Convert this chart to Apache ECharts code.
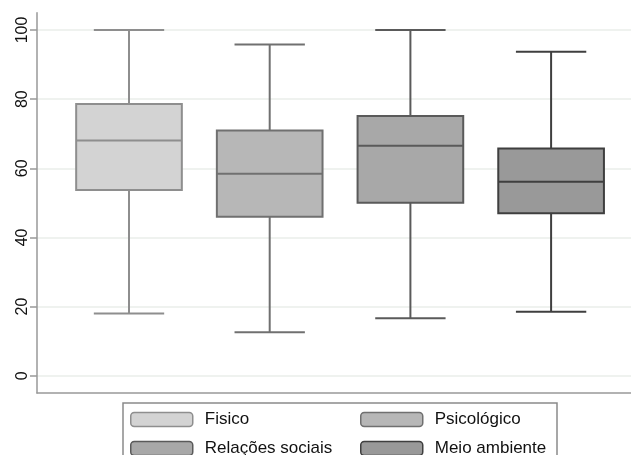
<!DOCTYPE html>
<html>
<head>
<meta charset="utf-8">
<script src="https://cdn.jsdelivr.net/npm/echarts@6/dist/echarts.min.js"></script>
<style>html,body{margin:0;padding:0;background:#fff;}#c{width:631px;height:455px;}</style>
</head>
<body>
<div id="c"></div>
<script>
const categories = ['Fisico', 'Psicológico', 'Relações sociais', 'Meio ambiente'];
// [lower whisker, Q1, median, Q3, upper whisker]
const fisico = [18.0, 53.7, 68.0, 78.6, 100];
const psicologico = [12.6, 46.0, 58.4, 70.9, 95.8];
const relacoes = [16.6, 50.0, 66.5, 75.1, 100];
const meio = [18.5, 47.0, 56.1, 65.7, 93.7];
const yTicks = [0, 20, 40, 60, 80, 100];

const fills = ['#d3d3d3', '#b7b7b7', '#a8a8a8', '#999999'];
const borders = ['#8e8e8e', '#707070', '#5a5a5a', '#3f3f3f'];
const allStats = [fisico, psicologico, relacoes, meio];

const chart = echarts.init(document.getElementById('c'), null, {renderer: 'canvas'});

function renderItem(params, api) {
  const idx = api.value(0);
  const lo = api.coord([idx, api.value(1)]);
  const q1 = api.coord([idx, api.value(2)]);
  const md = api.coord([idx, api.value(3)]);
  const q3 = api.coord([idx, api.value(4)]);
  const hi = api.coord([idx, api.value(5)]);
  const band = api.size([1, 0])[0];
  const bw = band * 0.751, cw = band * 0.5;
  const cx = lo[0];
  const s = params.seriesIndex;
  const ls = {stroke: borders[s], lineWidth: 2};
  return {
    type: 'group',
    children: [
      {type: 'line', shape: {x1: cx, y1: hi[1], x2: cx, y2: q3[1]}, style: ls},
      {type: 'line', shape: {x1: cx, y1: q1[1], x2: cx, y2: lo[1]}, style: ls},
      {type: 'line', shape: {x1: cx - cw / 2, y1: hi[1], x2: cx + cw / 2, y2: hi[1]}, style: ls},
      {type: 'line', shape: {x1: cx - cw / 2, y1: lo[1], x2: cx + cw / 2, y2: lo[1]}, style: ls},
      {type: 'rect', shape: {x: cx - bw / 2, y: q3[1], width: bw, height: q1[1] - q3[1]},
        style: {fill: fills[s], stroke: borders[s], lineWidth: 2}},
      {type: 'line', shape: {x1: cx - bw / 2, y1: md[1], x2: cx + bw / 2, y2: md[1]}, style: ls}
    ]
  };
}

const series = categories.map((name, i) => ({
  name: name,
  type: 'custom',
  xAxisIndex: 1,
  yAxisIndex: 1,
  renderItem: renderItem,
  itemStyle: {color: fills[i], borderColor: borders[i], borderWidth: 1.5},
  encode: {x: 0, y: [1, 2, 3, 4, 5]},
  data: [[i].concat(allStats[i])],
  silent: true
}));

const legendText = {fontFamily: 'Liberation Sans, Arial, sans-serif', fontSize: 17, lineHeight: 14, color: '#111111', padding: [0, 0, 0, 7]};
function legendData(names) {
  return names.map(n => {
    const i = categories.indexOf(n);
    return {name: n, icon: 'roundRect', itemStyle: {color: fills[i], borderColor: borders[i], borderWidth: 1.5}};
  });
}

const yMin = -5, yMax = 105;

chart.setOption({
  animation: false,
  backgroundColor: '#ffffff',
  grid: [
    {left: 37, right: 0, top: 12.7, bottom: 62},
    {left: 58.65, right: 9.55, top: 12.7, bottom: 62}
  ],
  xAxis: [
    {type: 'value', gridIndex: 0, min: 0, max: 1, show: true,
      axisLine: {show: true, onZero: false, lineStyle: {color: '#999999', width: 1.5}},
      axisTick: {show: false}, axisLabel: {show: false}, splitLine: {show: false}},
    {type: 'category', gridIndex: 1, data: categories, show: false}
  ],
  yAxis: [
    {type: 'value', gridIndex: 0, min: yMin, max: yMax,
      axisLine: {show: true, lineStyle: {color: '#999999', width: 1.5}},
      axisTick: {show: true, length: 7, customValues: yTicks, lineStyle: {color: '#999999', width: 1.5}},
      axisLabel: {show: true, customValues: yTicks, rotate: 90, margin: 6,
        fontFamily: 'Liberation Sans, Arial, sans-serif', fontSize: 16, color: '#111111'},
      splitLine: {show: true, lineStyle: {color: '#eaeeea', width: 1.5}}},
    {type: 'value', gridIndex: 1, min: yMin, max: yMax, show: false, splitLine: {show: false}}
  ],
  legend: [
    {left: 130, top: 411, height: 60, orient: 'vertical', padding: 0, itemWidth: 62, itemHeight: 14, itemGap: 12,
      data: legendData(['Fisico', 'Relações sociais']), textStyle: legendText, selectedMode: false},
    {left: 360, top: 411, height: 60, orient: 'vertical', padding: 0, itemWidth: 62, itemHeight: 14, itemGap: 12,
      data: legendData(['Psicológico', 'Meio ambiente']), textStyle: legendText, selectedMode: false}
  ],
  graphic: [
    {type: 'rect', shape: {x: 123, y: 403, width: 434, height: 70},
      style: {fill: 'none', stroke: '#8a8a8a', lineWidth: 1.5}, silent: true}
  ],
  series: series
});
</script>
</body>
</html>
